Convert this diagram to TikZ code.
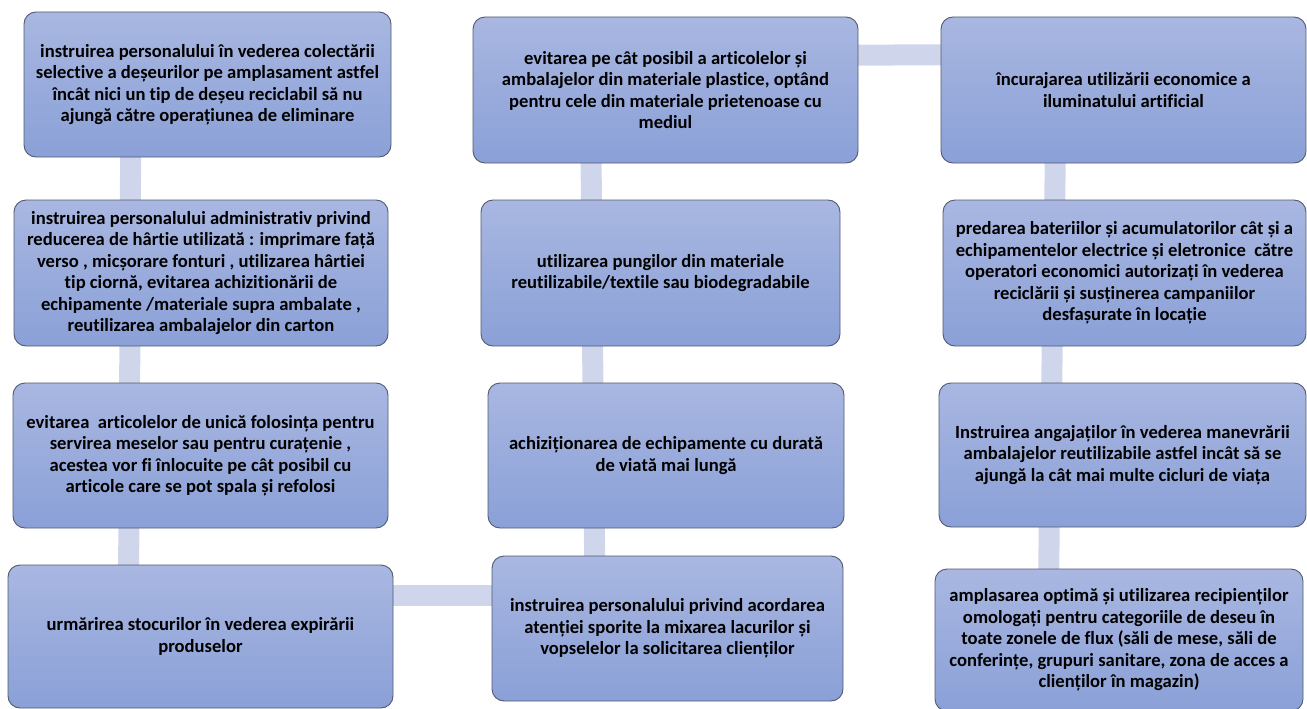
\documentclass[tikz,border=0pt]{standalone}
\usepackage{fontspec}
\setmainfont{Carlito}[RawFeature={-liga}]
\usetikzlibrary{backgrounds}
\definecolor{bartint}{RGB}{207,214,236}
\definecolor{boxtop}{RGB}{169,183,225}
\definecolor{boxbot}{RGB}{138,160,215}
\definecolor{boxline}{RGB}{80,90,112}
\tikzset{
  stepbox/.style={draw=boxline, line width=0.9pt, rounded corners=12pt,
    top color=boxtop, bottom color=boxbot, align=center, inner sep=0pt,
    font=\fontsize{18.6}{21.5}\selectfont\bfseries, text=black},
  bar/.style={draw=bartint, line width=21pt}
}
\begin{document}
\begin{tikzpicture}[x=1pt,y=-1pt]
\useasboundingbox (0,0) rectangle (1307,709);
% column 1
\node[stepbox, minimum width=367pt, minimum height=145pt] (b1) at (207.5,84.5)
 {instruirea personalului în vederea colectării\\ selective a deșeurilor pe amplasament astfel\\ încât nici un tip de deșeu reciclabil să nu\\ ajungă către operațiunea de eliminare};
\node[stepbox, minimum width=374pt, minimum height=146pt] (b2) at (201,273)
 {instruirea personalului administrativ privind\\ reducerea de hârtie utilizată : imprimare față\\ verso , micșorare fonturi , utilizarea hârtiei\\ tip ciornă, evitarea achizitionării de\\ echipamente /materiale supra ambalate ,\\ reutilizarea ambalajelor din carton};
\node[stepbox, minimum width=375pt, minimum height=145pt] (b3) at (200.5,455.5)
 {evitarea\ \ articolelor de unică folosința pentru\\ servirea meselor sau pentru curațenie ,\\ acestea vor fi înlocuite pe cât posibil cu\\ articole care se pot spala și refolosi};
\node[stepbox, minimum width=385pt, minimum height=143pt] (b4) at (200.5,636.5)
 {urmărirea stocurilor în vederea expirării\\ produselor};
% column 2
\node[stepbox, minimum width=385pt, minimum height=146pt] (b5) at (665.5,90)
 {evitarea pe cât posibil a articolelor și\\ ambalajelor din materiale plastice, optând\\ pentru cele din materiale prietenoase cu\\ mediul};
\node[stepbox, minimum width=359pt, minimum height=146pt] (b6) at (660.5,273)
 {utilizarea pungilor din materiale\\ reutilizabile/textile sau biodegradabile};
\node[stepbox, minimum width=356pt, minimum height=145pt] (b7) at (666,455.5)
 {achiziționarea de echipamente cu durată\\ de viată mai lungă};
\node[stepbox, minimum width=351pt, minimum height=145pt] (b8) at (667.5,628.5)
 {instruirea personalului privind acordarea\\ atenției sporite la mixarea lacurilor și\\ vopselelor la solicitarea clienților};
% column 3
\node[stepbox, minimum width=365pt, minimum height=146pt] (b9) at (1123.5,90)
 {încurajarea utilizării economice a\\ iluminatului artificial};
\node[stepbox, minimum width=363pt, minimum height=146pt] (b10) at (1124.5,273)
 {predarea bateriilor și acumulatorilor cât și a\\ echipamentelor electrice și eletronice\ \ către\\ operatori economici autorizați în vederea\\ reciclării și susținerea campaniilor\\ desfașurate în locație};
\node[stepbox, minimum width=367pt, minimum height=144pt] (b11) at (1122.5,455)
 {Instruirea angajaților în vederea manevrării\\ ambalajelor reutilizabile astfel incât să se\\ ajungă la cât mai multe cicluri de viața};
\node[stepbox, minimum width=368pt, minimum height=142pt] (b12) at (1119,640)
 {amplasarea optimă și utilizarea recipienților\\ omologați pentru categoriile de deseu în\\ toate zonele de flux (săli de mese, săli de\\ conferințe, grupuri sanitare, zona de acces a\\ clienților în magazin)};
% connectors
\begin{scope}[on background layer]
\draw[bar] ([xshift=-76.5pt]b1.center) -- ([xshift=-71pt]b2.center);
\draw[bar] ([xshift=-71pt]b2.center) -- ([xshift=-71pt]b3.center);
\draw[bar] ([xshift=-71.5pt]b3.center) -- ([xshift=-72pt]b4.center);
\draw[bar] ([yshift=41.5pt]b4.center) -- ([yshift=33.5pt]b8.center);
\draw[bar] ([xshift=-72.5pt]b8.center) -- ([xshift=-72pt]b7.center);
\draw[bar] ([xshift=-72.5pt]b7.center) -- ([xshift=-68.5pt]b6.center);
\draw[bar] ([xshift=-69pt]b6.center) -- ([xshift=-74.5pt]b5.center);
\draw[bar] ([yshift=34pt]b5.center) -- ([yshift=36pt]b9.center);
\draw[bar] ([xshift=-67.5pt]b9.center) -- ([xshift=-70.5pt]b10.center);
\draw[bar] ([xshift=-71.5pt]b10.center) -- ([xshift=-71.5pt]b11.center);
\draw[bar] ([xshift=-72.5pt]b11.center) -- ([xshift=-71pt]b12.center);
\end{scope}
\end{tikzpicture}
\end{document}
